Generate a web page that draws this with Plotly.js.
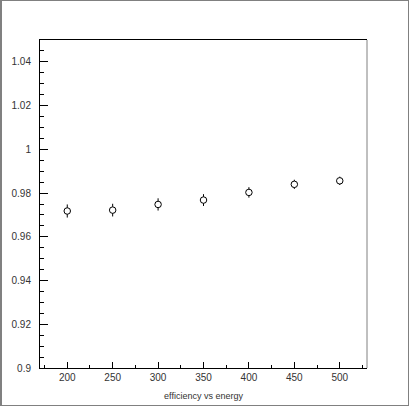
<!DOCTYPE html>
<html>
<head>
<meta charset="utf-8">
<script src="https://cdn.plot.ly/plotly-3.0.1.min.js"></script>
<style>
  body { margin: 0; background: #fff; }
  #chart { position: absolute; left: 0; top: 0; width: 409px; height: 409px; }
  #frame { position: absolute; left: 0; top: 0; width: 406px; height: 404px;
           border-left: 2px solid #808080; border-top: 1px solid #808080;
           border-right: 1px solid #808080; border-bottom: 1px solid #808080;
           pointer-events: none; }
</style>
</head>
<body>
<div id="chart"></div>
<div id="frame"></div>
<script>
// energy points and measured efficiency
var energy = [200, 250, 300, 350, 400, 450, 500];
var efficiency = [0.9718, 0.9722, 0.9748, 0.9768, 0.9803, 0.9840, 0.9856];
var efficiencyErr = [0.0030, 0.0029, 0.0028, 0.0027, 0.0024, 0.0021, 0.0019];

var tickFont = { family: 'Liberation Sans, Arial, sans-serif', size: 10, color: '#333' };

var data = [
    {
        x: energy,
        y: efficiency,
        type: 'scatter',
        mode: 'markers',
        marker: { symbol: 'circle', size: 6.5, color: '#fff', line: { color: '#000', width: 1 } },
        error_y: { type: 'data', array: efficiencyErr, visible: true, color: '#000', thickness: 1, width: 0 },
        showlegend: false
    }
];

var layout = {
    width: 409,
    height: 409,
    margin: { l: 40, r: 42, t: 40, b: 41 },
    paper_bgcolor: '#fff',
    plot_bgcolor: '#fff',
    xaxis: {
        range: [170, 530],
        tick0: 0,
        dtick: 50,
        ticks: 'inside',
        ticklen: 6,
        tickcolor: '#000',
        showgrid: false,
        zeroline: false,
        showline: true,
        linecolor: '#000',
        linewidth: 1,
        mirror: true,
        tickfont: tickFont,
        minor: { dtick: 25, ticks: 'inside', ticklen: 3, tickcolor: '#000' },
        title: {
            text: 'efficiency vs energy',
            font: { family: 'Liberation Sans, Arial, sans-serif', size: 9, color: '#333' },
            standoff: 10
        }
    },
    yaxis: {
        range: [0.9, 1.05],
        tick0: 0.9,
        dtick: 0.02,
        ticks: 'inside',
        ticklen: 8,
        tickcolor: '#000',
        showgrid: false,
        zeroline: false,
        showline: true,
        linecolor: '#000',
        linewidth: 1,
        tickfont: tickFont,
        ticklabelstandoff: 6,
        minor: { dtick: 0.005, ticks: 'inside', ticklen: 4, tickcolor: '#000' }
    },
    shapes: [
        { type: 'line', xref: 'paper', yref: 'paper', x0: 1, x1: 1, y0: 0, y1: 1,
          line: { color: '#808080', width: 1 } }
    ]
};

Plotly.newPlot('chart', data, layout, { staticPlot: true });
</script>
</body>
</html>
